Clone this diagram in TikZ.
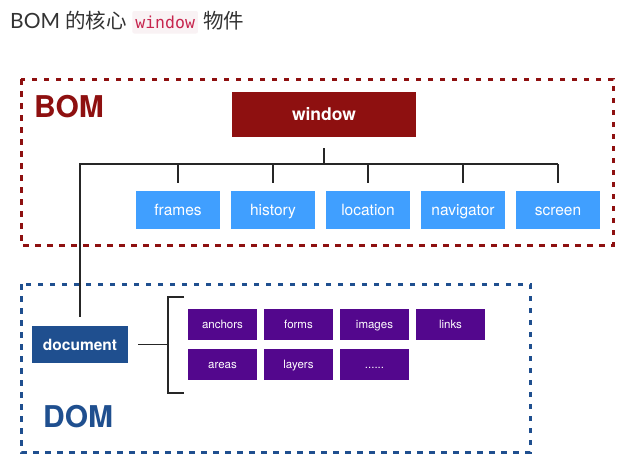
\documentclass[tikz,border=0pt]{standalone}
\usepackage{fontspec}
\setmainfont{TeX Gyre Heros}
\newfontfamily\latofont{Lato}
\newfontfamily\cjk{Noto Sans CJK TC}
\newfontfamily\codefont{DejaVu Sans Mono}
\usepackage{tikz}
\usetikzlibrary{positioning}
\definecolor{bomred}{HTML}{8E1010}
\definecolor{dombl}{HTML}{1F4F8F}
\definecolor{propbl}{HTML}{409FFF}
\definecolor{subpur}{HTML}{53078D}
\definecolor{codered}{HTML}{C7254E}
\definecolor{codebg}{HTML}{F9F2F4}
\definecolor{titlegray}{HTML}{333333}
\tikzstyle{bomframe}=[draw=bomred,line width=3pt,dash pattern=on 5.5pt off 6.5pt]
\tikzstyle{domframe}=[draw=dombl,line width=3pt,dash pattern=on 5.5pt off 6.5pt]
\tikzstyle{objbox}=[inner sep=0pt,text=white,text depth=0pt]
\tikzstyle{propbox}=[objbox,fill=propbl,minimum width=84pt,minimum height=38pt,text height=11.2pt,font=\fontsize{15.5}{18}\selectfont]
\tikzstyle{subbox}=[objbox,fill=subpur,minimum width=69pt,minimum height=31pt,text height=8.3pt,font=\fontsize{11.5}{14}\selectfont]
\tikzstyle{link}=[line width=1.8pt,black!85]

\begin{document}
\begin{tikzpicture}[x=1pt,y=-1pt]
	\useasboundingbox[fill=white] (0,0) rectangle (626,474);
	% title
	\node[anchor=base west,inner sep=0pt,text=titlegray] (ttl) at (10,28) {\fontsize{21}{24}\latofont BOM \cjk\fontsize{20.5}{24}\selectfont 的核心};
	\node[right=5pt of ttl.base east,anchor=base west,fill=codebg,rounded corners=2pt,inner xsep=3pt,inner ysep=0pt,text depth=5.5pt,text height=17pt,text=codered] (code) {\fontsize{16.5}{18}\codefont window};
	\node[right=5pt of code.base east,anchor=base west,inner sep=0pt,text=titlegray] (ttl2) {\fontsize{20.5}{24}\cjk 物件};
	% frames
	\draw[bomframe] (21,79) rectangle (613,245);
	\draw[domframe] (21,284) rectangle (530,452);
	\node[anchor=base west,inner sep=0pt,text=bomred,font=\fontsize{30}{34}\selectfont\bfseries] (bom) at (34,117) {BOM};
	\node[anchor=base west,inner sep=0pt,text=dombl,font=\fontsize{30}{34}\selectfont\bfseries] (dom) at (43,427) {DOM};
	% window and its properties
	\node[objbox,fill=bomred,minimum width=184pt,minimum height=45pt,text height=12.6pt,font=\fontsize{17.5}{20}\selectfont\bfseries] (window) at (324,114.5) {window};
	\node[propbox] (frames) at (178,210) {frames};
	\node[propbox] (history) at (273,210) {history};
	\node[propbox] (location) at (368,210) {location};
	\node[propbox] (navigator) at (463,210) {navigator};
	\node[propbox] (screen) at (558,210) {screen};
	\node[objbox,fill=dombl,minimum width=96pt,minimum height=37pt,text height=11.2pt,font=\fontsize{15.5}{18}\selectfont\bfseries] (doc) at (80,344.5) {document};
	\coordinate (bus) at (324,164);
	\draw[link,shorten <=11pt] (window.south) -- (bus);
	\draw[link,shorten >=9pt] (screen.north |- bus) -- (doc.north |- bus) -- (doc.north);
	\draw[link,shorten >=8pt] (frames.north |- bus) -- (frames.north);
	\draw[link,shorten >=8pt] (history.north |- bus) -- (history.north);
	\draw[link,shorten >=8pt] (location.north |- bus) -- (location.north);
	\draw[link,shorten >=8pt] (navigator.north |- bus) -- (navigator.north);
	\draw[link,shorten >=8pt] (screen.north |- bus) -- (screen.north);
	% document collections
	\node[subbox] (anchors) at (222.5,324.5) {anchors};
	\node[subbox] (forms) at (298.5,324.5) {forms};
	\node[subbox] (images) at (374.5,324.5) {images};
	\node[subbox] (links) at (450.5,324.5) {links};
	\node[subbox] (areas) at (222.5,364.5) {areas};
	\node[subbox] (layers) at (298.5,364.5) {layers};
	\node[subbox] (more) at (374.5,364.5) {......};
	\coordinate (brk) at (168,344.5);
	\coordinate (brtop) at (184,297);
	\coordinate (brbot) at (184,393);
	\draw[link,shorten <=10pt] (doc.east) -- (brk);
	\draw[link] (brtop) -| (brk) |- (brbot);
\end{tikzpicture}
\end{document}
